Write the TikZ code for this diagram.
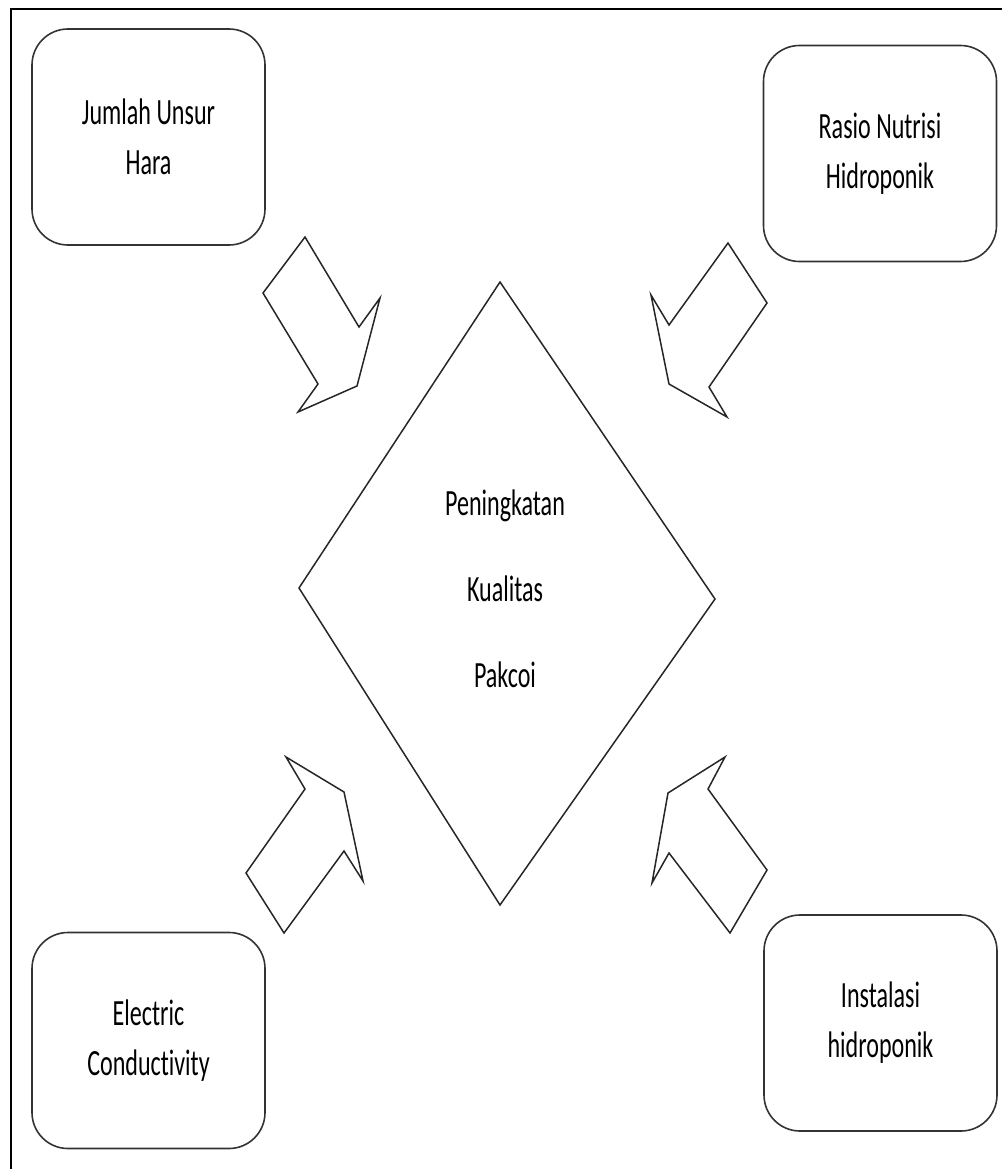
\documentclass[tikz,border=0pt]{standalone}
\usepackage{fontspec}
\newfontfamily\cbfont[FakeStretch=0.65, Ligatures=NoCommon]{Carlito}
\usetikzlibrary{positioning}
\tikzset{
  factor/.style={draw=black!80, line width=1.6pt, rounded corners=36pt,
    minimum width=233pt, minimum height=216pt, inner sep=0pt, align=center,
    font=\cbfont\fontsize{37}{50}\selectfont},
  goal/.style={inner sep=0pt, align=center, font=\cbfont\fontsize{37}{86}\selectfont},
  blockarrow/.style={draw=black!85, line width=1.5pt, line join=miter},
}
\begin{document}
\begin{tikzpicture}[x=1pt, y=-1pt]
\useasboundingbox (0,0) rectangle (1001,1169);
% frame
\draw[line width=1.4pt] (11,9) rectangle (1012,1180);
% factors
\node[factor] (hara) at (148.5,137) {Jumlah Unsur\\Hara};
\node[factor] (rasio) at (880,153.5) {Rasio Nutrisi\\Hidroponik};
\node[factor] (ec) at (148.5,1040.5) {Electric\\Conductivity};
\node[factor] (instalasi) at (880.5,1023) {Instalasi\\hidroponik};
% diamond
\coordinate (dT) at (500,282);
\coordinate (dR) at (715,599);
\coordinate (dB) at (500,905);
\coordinate (dL) at (299,588);
\draw[blockarrow] (dT) -- (dR) -- (dB) -- (dL) -- cycle;
\node[goal] (pakcoi) at (505,589) {Peningkatan\\Kualitas\\Pakcoi};
% block arrows
\draw[blockarrow] (305,237) -- (263,293) -- (318,384) -- (298,412) -- (357,386) -- (380,298) -- (359,327) -- cycle;
\draw[blockarrow] (728,243) -- (767,303) -- (709,387) -- (727,417) -- (669,384) -- (651,295) -- (669,325) -- cycle;
\draw[blockarrow] (286,757) -- (344,792) -- (363,881) -- (344,851) -- (284,933) -- (246,873) -- (305,789) -- cycle;
\draw[blockarrow] (725,757) -- (708,789) -- (767,870) -- (730,933) -- (669,853) -- (652,883) -- (668,793) -- cycle;
\end{tikzpicture}
\end{document}
